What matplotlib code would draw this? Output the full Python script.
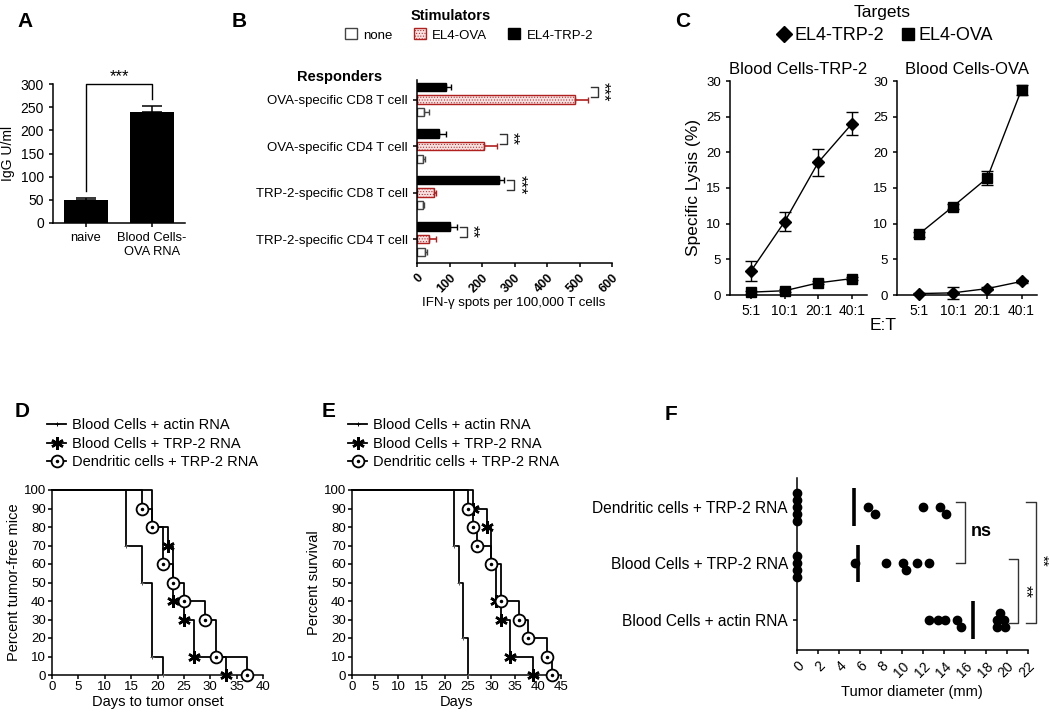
import numpy as np
import matplotlib
matplotlib.use('Agg')
import matplotlib.pyplot as plt
from matplotlib.patches import Patch
from matplotlib.lines import Line2D

plt.rcParams['font.family'] = ['Liberation Sans', 'DejaVu Sans']
plt.rcParams['axes.linewidth'] = 1.1
plt.rcParams['xtick.major.width'] = 1.1
plt.rcParams['ytick.major.width'] = 1.1
plt.rcParams['xtick.major.size'] = 3
plt.rcParams['ytick.major.size'] = 3
plt.rcParams['hatch.linewidth'] = 0.4

# ---- A: IgG ----
a_groups = ['naive', 'Blood Cells-\nOVA RNA']
a_igg = [49, 240]
a_err = [4, 12]

# ---- B: ELISPOT ----
b_responders = ['OVA-specific CD8 T cell', 'OVA-specific CD4 T cell',
                'TRP-2-specific CD8 T cell', 'TRP-2-specific CD4 T cell']
b_stimulators = ['none', 'EL4-OVA', 'EL4-TRP-2']
b_none = [20, 17, 17, 25]
b_none_err = [17, 8, 3, 5]
b_ova = [485, 205, 53, 37]
b_ova_err = [40, 40, 4, 21]
b_trp2 = [89, 68, 252, 103]
b_trp2_err = [16, 20, 16, 19]
b_stars = ['***', '**', '***', '**']

# ---- C: lysis ----
c_ratios = ['5:1', '10:1', '20:1', '40:1']
c_targets = ['EL4-TRP-2', 'EL4-OVA']
c_trp2_on_trp2 = [3.4, 10.3, 18.6, 24.0]
c_trp2_on_trp2_err = [1.4, 1.3, 1.9, 1.6]
c_trp2_on_ova = [0.4, 0.6, 1.7, 2.3]
c_trp2_on_ova_err = [0.2, 0.2, 0.2, 0.2]
c_ova_on_trp2 = [0.2, 0.3, 0.9, 1.9]
c_ova_on_trp2_err = [0.1, 0.8, 0.2, 0.2]
c_ova_on_ova = [8.5, 12.4, 16.4, 28.8]
c_ova_on_ova_err = [0.4, 0.3, 1.0, 0.7]

# ---- D / E: Kaplan-Meier steps ----
km_labels = ['Blood Cells + actin RNA', 'Blood Cells + TRP-2 RNA', 'Dendritic cells + TRP-2 RNA']
d_actin_days = [14, 17, 19, 21]
d_actin_pct = [70, 50, 10, 0]
d_blood_days = [19, 22, 23, 25, 27, 33]
d_blood_pct = [80, 70, 40, 30, 10, 0]
d_dc_days = [17, 19, 21, 23, 25, 29, 31, 37]
d_dc_pct = [90, 80, 60, 50, 40, 30, 10, 0]

e_actin_days = [22, 23, 24, 25]
e_actin_pct = [70, 50, 20, 0]
e_blood_days = [26, 29, 30, 31, 32, 34, 39]
e_blood_pct = [90, 80, 60, 40, 30, 10, 0]
e_dc_days = [25, 26, 27, 30, 32, 36, 38, 42, 43]
e_dc_pct = [90, 80, 70, 60, 40, 30, 20, 10, 0]

# ---- F: tumor diameter ----
f_groups = ['Dendritic cells + TRP-2 RNA', 'Blood Cells + TRP-2 RNA', 'Blood Cells + actin RNA']
f_dc = [0, 0, 0, 0, 0, 6.8, 7.4, 12.0, 13.6, 14.2]
f_blood = [0, 0, 0, 0, 5.5, 8.5, 10.1, 10.4, 11.4, 12.6]
f_actin = [12.6, 13.4, 14.1, 15.2, 15.6, 19.0, 19.0, 19.3, 19.7, 19.8]


W, H = 1050, 713
def box(x0, y0, x1, y1):
    return [x0 / W, 1 - y1 / H, (x1 - x0) / W, (y1 - y0) / H]

def clean(ax):
    ax.spines['top'].set_visible(False)
    ax.spines['right'].set_visible(False)

fig = plt.figure(figsize=(10.5, 7.13), dpi=100)

for lab, x, y in [('A', 17, 12), ('B', 232, 12), ('C', 675, 12),
                  ('D', 15, 402), ('E', 322, 402), ('F', 665, 405)]:
    fig.text(x / W, 1 - y / H, lab, fontsize=15, fontweight='bold', va='top')

# A
axA = fig.add_axes(box(53, 84, 185, 223))
xa = np.arange(len(a_groups))
axA.bar(xa, a_igg, width=0.68, color='black')
axA.errorbar(xa, a_igg, yerr=[np.zeros(len(a_igg)), a_err], fmt='none', ecolor='black',
             capsize=7, elinewidth=1.1, capthick=1.1)
axA.set_xlim(-0.5, 1.5)
axA.set_ylim(0, 300)
axA.set_yticks(np.arange(0, 301, 50))
axA.set_xticks(xa)
axA.set_xticklabels(a_groups, fontsize=9.3)
axA.tick_params(axis='y', labelsize=10)
axA.set_ylabel('IgG U/ml', fontsize=10)
axA.plot([0, 0, 1, 1], [68, 300, 300, 268], color='black', lw=1, clip_on=False)
axA.text(0.5, 300, '***', ha='center', va='bottom', fontsize=12)
clean(axA)

# B
axB = fig.add_axes(box(417, 80, 612, 263))
yb = np.arange(len(b_responders))[::-1]
bh = 0.18
off = 0.27
red = '#b0201e'
axB.barh(yb + off, b_trp2, height=bh, color='black', edgecolor='black')
axB.barh(yb, b_ova, height=bh, color='#f6e0e0', edgecolor=red, hatch='......', lw=1)
axB.barh(yb - off, b_none, height=bh, color='white', edgecolor='#444444', lw=1)
axB.errorbar(b_trp2, yb + off, xerr=[np.zeros(4), b_trp2_err], fmt='none', ecolor='black',
             capsize=2.5, elinewidth=1)
axB.errorbar(b_ova, yb, xerr=[np.zeros(4), b_ova_err], fmt='none', ecolor=red,
             capsize=2.5, elinewidth=1.2)
axB.errorbar(b_none, yb - off, xerr=[np.zeros(4), b_none_err], fmt='none', ecolor='#444444',
             capsize=2.5, elinewidth=1)
for i in range(len(b_responders)):
    end = max(b_trp2[i] + b_trp2_err[i], b_ova[i] + b_ova_err[i])
    x0, x1 = end + 9, end + 31
    axB.plot([x0, x1, x1, x0], [yb[i] + off, yb[i] + off, yb[i] + 0.05, yb[i] + 0.05],
             color='#333333', lw=1, clip_on=False)
    axB.text(x1 + 17, yb[i] + 0.16, b_stars[i], rotation=-90, ha='center', va='center',
             fontsize=12, clip_on=False)
axB.set_xlim(0, 600)
axB.set_ylim(-0.51, 3.42)
axB.set_xticks(np.arange(0, 601, 100))
axB.set_xticklabels([str(v) for v in range(0, 601, 100)], rotation=45, ha='right',
                    va='top', rotation_mode='anchor', fontweight='bold', fontsize=9)
axB.set_yticks(yb)
axB.set_yticklabels(b_responders, fontsize=9.5)
clean(axB)
fig.text(340 / W, 1 - 77 / H, 'Responders', fontsize=10.5, fontweight='bold', ha='center', va='center')
fig.text(514 / W, 1 - 303 / H, 'IFN-\u03b3 spots per 100,000 T cells', fontsize=9.5, ha='center', va='center')
fig.text(451 / W, 1 - 16 / H, 'Stimulators', fontsize=10.5, fontweight='bold', ha='center', va='center')
b_handles = [Patch(facecolor='white', edgecolor='#444444'),
             Patch(facecolor='#f6e0e0', edgecolor=red, hatch='......'),
             Patch(facecolor='black', edgecolor='black')]
fig.legend(b_handles, b_stimulators, loc='center', bbox_to_anchor=(469 / W, 1 - 35 / H),
           ncol=3, frameon=False, fontsize=9.5, handlelength=0.9, handleheight=0.9,
           handletextpad=0.5, columnspacing=1.6, borderpad=0)

# C
xc = np.arange(len(c_ratios))
axC1 = fig.add_axes(box(730, 81, 867, 295))
axC2 = fig.add_axes(box(897, 81, 1037, 295))
panels = [(axC1, 'Blood Cells-TRP-2', c_trp2_on_trp2, c_trp2_on_trp2_err, c_trp2_on_ova, c_trp2_on_ova_err),
          (axC2, 'Blood Cells-OVA', c_ova_on_trp2, c_ova_on_trp2_err, c_ova_on_ova, c_ova_on_ova_err)]
for ax, title, dv, de, sv, se in panels:
    ax.errorbar(xc, dv, yerr=de, color='black', lw=1, marker='D', ms=6, capsize=4,
                elinewidth=1, capthick=1, clip_on=False)
    ax.errorbar(xc, sv, yerr=se, color='black', lw=1, marker='s', ms=6.5, capsize=4,
                elinewidth=1, capthick=1, clip_on=False)
    ax.set_xlim(-0.63, 3.45)
    ax.set_ylim(0, 30)
    ax.set_yticks(np.arange(0, 31, 5))
    ax.set_xticks(xc)
    ax.set_xticklabels(c_ratios, fontsize=10)
    ax.tick_params(axis='y', labelsize=9.5)
    ax.set_title(title, fontsize=12, pad=5)
    clean(ax)
axC1.set_ylabel('Specific Lysis (%)', fontsize=12.5)
fig.text(883 / W, 1 - 325 / H, 'E:T', fontsize=12.5, ha='center', va='center')
fig.text(882 / W, 1 - 13 / H, 'Targets', fontsize=12.5, ha='center', va='center')
c_handles = [Line2D([], [], ls='none', marker='D', ms=8, color='black'),
             Line2D([], [], ls='none', marker='s', ms=8, color='black')]
fig.legend(c_handles, c_targets, loc='center', bbox_to_anchor=(885 / W, 1 - 36 / H), ncol=2,
           frameon=False, fontsize=13, handlelength=0.8, handletextpad=0.2,
           columnspacing=0.9, borderpad=0)

# D and E: survival curves
def km(ax, days, pct, kind):
    ax.step([0] + days, [100] + pct, where='post', color='black', lw=1.3, clip_on=False)
    if kind == 'actin':
        ax.plot(days, pct, ls='none', marker='+', ms=3, mew=0.7, color='#555555', clip_on=False, zorder=3)
    elif kind == 'blood':
        ax.plot(days, pct, ls='none', marker=(6, 2, 0), ms=9, mew=1.8, color='black', clip_on=False, zorder=3)
    else:
        ax.plot(days, pct, ls='none', marker='o', ms=8.5, mfc='white', mec='black', mew=1.3,
                clip_on=False, zorder=4)
        ax.plot(days, pct, ls='none', marker='o', ms=1.5, color='black', clip_on=False, zorder=5)

km_handles = [Line2D([], [], color='black', lw=1.3, marker='+', ms=3, mew=0.7),
              Line2D([], [], color='black', lw=1.3, marker=(6, 2, 0), ms=9, mew=1.8),
              (Line2D([], [], color='black', lw=1.3, marker='o', ms=8.5, mfc='white', mec='black', mew=1.3),
               Line2D([], [], ls='none', marker='o', ms=1.5, color='black'))]

axD = fig.add_axes(box(52, 490, 263, 675))
km(axD, d_actin_days, d_actin_pct, 'actin')
km(axD, d_blood_days, d_blood_pct, 'blood')
km(axD, d_dc_days, d_dc_pct, 'dc')
axD.set_xlim(0, 40)
axD.set_xticks(np.arange(0, 41, 5))
axD.set_xlabel('Days to tumor onset', fontsize=10.5, labelpad=1)
axD.set_ylabel('Percent tumor-free mice', fontsize=10.5, labelpad=2)

axE = fig.add_axes(box(352, 490, 561, 675))
km(axE, e_actin_days, e_actin_pct, 'actin')
km(axE, e_blood_days, e_blood_pct, 'blood')
km(axE, e_dc_days, e_dc_pct, 'dc')
axE.set_xlim(0, 45)
axE.set_xticks(np.arange(0, 46, 5))
axE.set_xlabel('Days', fontsize=10.5, labelpad=1)
axE.set_ylabel('Percent survival', fontsize=10.5, labelpad=2)

for ax, lx in [(axD, 40), (axE, 341)]:
    ax.set_ylim(0, 100)
    ax.set_yticks(np.arange(0, 101, 10))
    ax.tick_params(labelsize=9.5, pad=1.5)
    clean(ax)
    fig.legend(km_handles, km_labels, loc='upper left', bbox_to_anchor=(lx / W, 1 - 411 / H),
               frameon=False, fontsize=10.5, handlelength=1.3, handletextpad=0.4,
               labelspacing=0.3, borderpad=0)

# F: scatter with means
axF = fig.add_axes(box(797, 478, 1028, 650))
px_mm = 10.47
px_row = 57.0
dot = 7.0

def swarm(vals):
    placed = []
    offs = []
    for v in sorted(vals):
        for k in [0, 1, -1, 2, -2, 3, -3, 4, -4]:
            ok = True
            for pv, pk in placed:
                d = np.hypot((v - pv) * px_mm, (k - pk) * dot)
                if d < dot - 0.01:
                    ok = False
                    break
            if ok:
                placed.append((v, k))
                offs.append(k * dot / px_row)
                break
    return np.array(sorted(vals)), np.array(offs)

yf = np.arange(len(f_groups))[::-1]
for row, vals in zip(yf, [f_dc, f_blood, f_actin]):
    xs, os_ = swarm(vals)
    axF.plot(xs, row - os_, ls='none', marker='o', ms=6, color='black', clip_on=False, zorder=3)
    m = np.mean(vals)
    axF.plot([m, m], [row - 0.33, row + 0.33], color='black', lw=2.6, solid_capstyle='butt')
axF.set_xlim(0, 22)
axF.set_ylim(-0.53, 2.51)
axF.set_xticks(np.arange(0, 23, 2))
axF.set_xticklabels([str(v) for v in range(0, 23, 2)], rotation=45, ha='right', va='top',
                    rotation_mode='anchor', fontsize=10)
axF.set_yticks(yf)
axF.set_yticklabels(f_groups, fontsize=11.2)
clean(axF)
axF.plot([15.1, 16.0, 16.0, 15.1], [2.08, 2.08, 1.0, 1.0], color='#333333', lw=1, clip_on=False)
axF.text(17.5, 1.56, 'ns', fontsize=13, fontweight='bold', ha='center', va='center')
axF.plot([20.2, 21.0, 21.0, 20.2], [1.07, 1.07, -0.05, -0.05], color='#333333', lw=1, clip_on=False)
axF.text(21.7, 0.5, '**', rotation=-90, fontsize=12, ha='center', va='center', clip_on=False)
axF.plot([21.8, 22.8, 22.8, 21.8], [2.08, 2.08, -0.05, -0.05], color='#333333', lw=1, clip_on=False)
axF.text(23.3, 1.05, '**', rotation=-90, fontsize=11, ha='center', va='center', clip_on=False)
fig.text(912 / W, 1 - 692 / H, 'Tumor diameter (mm)', fontsize=10.5, ha='center', va='center')

fig.savefig('out.png', dpi=100)
